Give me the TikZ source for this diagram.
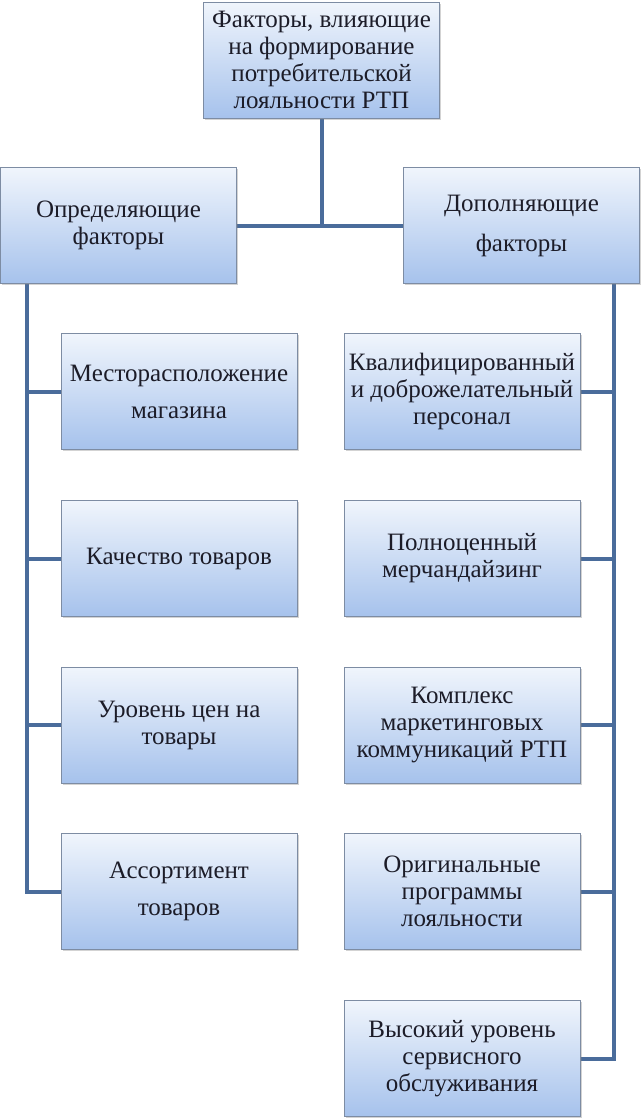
\documentclass[tikz,border=0pt]{standalone}
\usepackage{fontspec}
\setmainfont{Liberation Serif}
\usetikzlibrary{shadows,backgrounds}
\definecolor{linec}{HTML}{4A6C9B}
\definecolor{boxtop}{HTML}{F0F5FC}
\definecolor{boxbot}{HTML}{A6C2EC}
\definecolor{boxedge}{HTML}{7D8CA3}
\definecolor{txt}{HTML}{1C1C28}
\begin{document}
\begin{tikzpicture}[x=1pt,y=-1pt,
 fbox/.style={draw=boxedge, line width=1pt, top color=boxtop, bottom color=boxbot,
   minimum width=236pt, minimum height=116pt, inner sep=1pt, align=center,
   font=\fontsize{25}{27}\selectfont, text=txt,
   drop shadow={shadow xshift=1.5pt, shadow yshift=-1.5pt, opacity=0.35}},
 conn/.style={draw=linec, line width=4pt}]
\useasboundingbox (0,0) rectangle (640,1119);
\node[fbox] (top) at (321.5,60) {Факторы, влияющие\\на формирование\\потребительской\\лояльности РТП};
\node[fbox] (lh) at (118.5,225.5) {Определяющие\\факторы};
\node[fbox] (rh) at (521.5,225.5) {Дополняющие\\[13pt]факторы};
\node[fbox] (l1) at (179,391.5) {Месторасположение\\[10pt]магазина};
\node[fbox] (l2) at (179,558.5) {Качество товаров};
\node[fbox] (l3) at (179,725) {Уровень цен на\\товары};
\node[fbox] (l4) at (179,891.5) {Ассортимент\\[10pt]товаров};
\node[fbox] (r1) at (462,391.5) {Квалифицированный\\и доброжелательный\\персонал};
\node[fbox] (r2) at (462,558.5) {Полноценный\\мерчандайзинг};
\node[fbox] (r3) at (462,725) {Комплекс\\маркетинговых\\коммуникаций РТП};
\node[fbox] (r4) at (462,891.5) {Оригинальные\\программы\\лояльности};
\node[fbox] (r5) at (462,1058.5) {Высокий уровень\\сервисного\\обслуживания};
\coordinate (lsx) at (27,0);
\coordinate (rsx) at (614,0);
\begin{pgfonlayer}{background}
\draw[conn] (lh.east) -- (rh.west);
\draw[conn] (top.south) -- (top.south |- lh.east);
\draw[conn] (lh.south -| lsx) |- (l4.west);
\draw[conn] (l1.west -| lsx) -- (l1.west);
\draw[conn] (l2.west -| lsx) -- (l2.west);
\draw[conn] (l3.west -| lsx) -- (l3.west);
\draw[conn] (rh.south -| rsx) |- (r5.east);
\draw[conn] (r1.east -| rsx) -- (r1.east);
\draw[conn] (r2.east -| rsx) -- (r2.east);
\draw[conn] (r3.east -| rsx) -- (r3.east);
\draw[conn] (r4.east -| rsx) -- (r4.east);
\end{pgfonlayer}
\end{tikzpicture}
\end{document}
